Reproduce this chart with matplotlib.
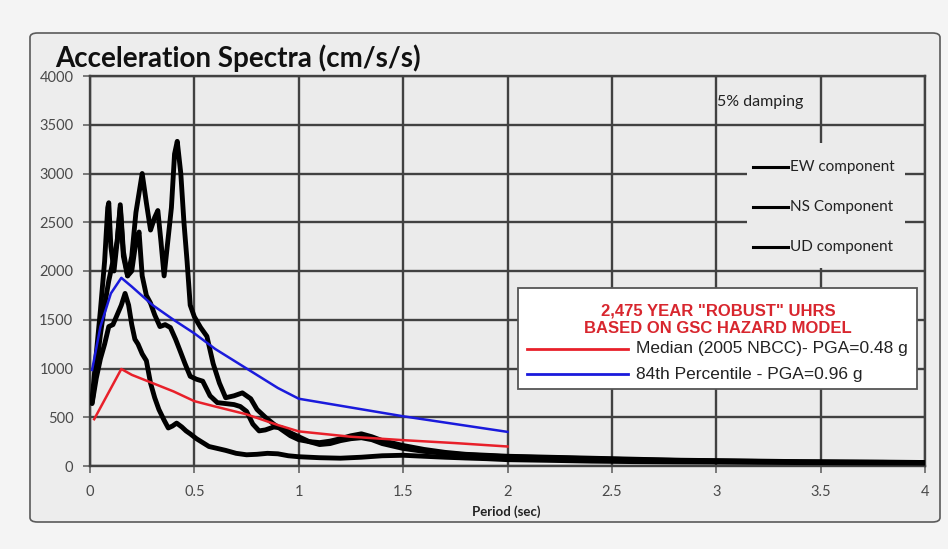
import matplotlib
matplotlib.use('Agg')
import matplotlib.pyplot as plt
from matplotlib.patches import FancyBboxPatch, Rectangle
from matplotlib.lines import Line2D

# ---------------- data ----------------
ew_t = [0.01, 0.03, 0.05, 0.07, 0.085, 0.09, 0.1, 0.115, 0.13, 0.145, 0.16, 0.18, 0.2, 0.22,
        0.25, 0.27, 0.29, 0.31, 0.325, 0.34, 0.355, 0.37, 0.39, 0.405, 0.418, 0.435, 0.45,
        0.465, 0.48, 0.5, 0.53, 0.56, 0.59, 0.62, 0.65, 0.69, 0.73, 0.77, 0.8, 0.84, 0.88,
        0.92, 0.96, 1.0, 1.05, 1.1, 1.15, 1.2, 1.25, 1.3, 1.35, 1.4, 1.5, 1.6, 1.7, 1.8,
        1.9, 2.0, 2.2, 2.4, 2.6, 2.8, 3.0, 3.2, 3.4, 3.6, 3.8, 4.0]
ew_a = [680, 1150, 1600, 2100, 2650, 2700, 2250, 2000, 2300, 2650, 2150, 1950, 2150, 2600,
        3000, 2700, 2420, 2550, 2620, 2300, 1950, 2250, 2650, 3200, 3330, 3000, 2500,
        2100, 1650, 1530, 1420, 1330, 1050, 850, 700, 720, 750, 690, 580, 500, 430,
        370, 310, 270, 250, 240, 255, 280, 310, 330, 300, 260, 210, 170, 140, 120,
        110, 100, 90, 80, 70, 60, 55, 50, 45, 42, 40, 36]

ns_t = [0.01, 0.03, 0.05, 0.07, 0.09, 0.11, 0.13, 0.145, 0.16, 0.18, 0.2, 0.22, 0.235,
        0.25, 0.27, 0.29, 0.31, 0.335, 0.36, 0.385, 0.41, 0.43, 0.455, 0.48, 0.51, 0.54,
        0.575, 0.61, 0.65, 0.69, 0.72, 0.75, 0.78, 0.81, 0.84, 0.88, 0.92, 0.96, 1.0,
        1.05, 1.1, 1.15, 1.2, 1.25, 1.3, 1.35, 1.4, 1.5, 1.6, 1.7, 1.8, 1.9, 2.0, 2.2,
        2.4, 2.6, 2.8, 3.0, 3.2, 3.4, 3.6, 3.8, 4.0]
ns_a = [650, 1000, 1350, 1650, 1900, 2100, 2300, 2680, 2200, 1950, 2000, 2300, 2400,
        1950, 1750, 1670, 1550, 1430, 1450, 1420, 1300, 1190, 1050, 920, 890, 870,
        720, 650, 640, 630, 610, 560, 430, 360, 370, 400, 390, 340, 300,
        250, 220, 230, 260, 280, 290, 270, 230, 180, 150, 130, 115, 105, 95, 85,
        75, 65, 58, 52, 47, 43, 40, 37, 34]

ud_t = [0.01, 0.03, 0.05, 0.07, 0.09, 0.11, 0.13, 0.15, 0.168, 0.185, 0.2, 0.215, 0.23,
        0.25, 0.27, 0.29, 0.31, 0.33, 0.355, 0.375, 0.395, 0.415, 0.44, 0.46, 0.48, 0.51,
        0.54, 0.57, 0.61, 0.65, 0.7, 0.75, 0.8, 0.85, 0.9, 0.95, 1.0, 1.1, 1.2, 1.3, 1.4,
        1.5, 1.6, 1.7, 1.8, 1.9, 2.0, 2.2, 2.4, 2.6, 2.8, 3.0, 3.2, 3.4, 3.6, 3.8, 4.0]
ud_a = [640, 900, 1100, 1250, 1430, 1450, 1550, 1650, 1770, 1650, 1450, 1300, 1250,
        1150, 1080, 850, 700, 580, 470, 390, 410, 440, 400, 360, 330, 280,
        240, 200, 180, 160, 130, 115, 120, 130, 125, 105, 95, 85, 80, 90, 105,
        110, 100, 90, 82, 75, 65, 58, 50, 45, 42, 40, 37, 35, 33, 31, 30]

median_t = [0.02, 0.15, 0.2, 0.3, 0.4, 0.5, 0.6, 0.75, 0.9, 1.0, 1.25, 1.5, 1.75, 2.0]
median_a = [480, 995, 935, 850, 765, 665, 610, 530, 420, 355, 300, 265, 235, 200]

p84_t = [0.01, 0.05, 0.1, 0.15, 0.2, 0.3, 0.4, 0.5, 0.6, 0.75, 0.9, 1.0, 1.25, 1.5, 1.75, 2.0]
p84_a = [985, 1430, 1770, 1930, 1840, 1650, 1500, 1360, 1200, 1000, 800, 690, 600, 510, 430, 350]

x_ticks = [0, 0.5, 1, 1.5, 2, 2.5, 3, 3.5, 4]
x_labels = ['0', '0.5', '1', '1.5', '2', '2.5', '3', '3.5', '4']
y_ticks = [0, 500, 1000, 1500, 2000, 2500, 3000, 3500, 4000]
y_labels = ['0', '500', '1000', '1500', '2000', '2500', '3000', '3500', '4000']

comp_labels = ['EW component', 'NS Component', 'UD component']
uhrs_title = '2,475 YEAR "ROBUST" UHRS\nBASED ON GSC HAZARD MODEL'
median_label = 'Median (2005 NBCC)- PGA=0.48 g'
p84_label = '84th Percentile - PGA=0.96 g'

# ---------------- figure ----------------
W, H = 948, 549
fig = plt.figure(figsize=(W / 100, H / 100), dpi=100)
fig.patch.set_facecolor('#f4f4f4')

def fx(px):
    return px / W

def fy(py):
    return 1 - py / H

frame = FancyBboxPatch((fx(30), fy(522)), fx(940) - fx(30), fy(33) - fy(522),
                       boxstyle='round,pad=0,rounding_size=0.008',
                       transform=fig.transFigure, facecolor='#ededed',
                       edgecolor='#5a5a5a', lw=1.2, zorder=-5)
fig.patches.append(frame)

ax = fig.add_axes([fx(90), fy(466), fx(925) - fx(90), fy(76) - fy(466)])
ax.set_zorder(1)
ax.set_facecolor('#ebebeb')
ax.set_xlim(0, 4)
ax.set_ylim(0, 4000)
ax.set_xticks(x_ticks)
ax.set_xticklabels(x_labels)
ax.set_yticks(y_ticks)
ax.set_yticklabels(y_labels)
ax.grid(True, color='#414141', lw=1.7)
ax.set_axisbelow(True)
for s in ax.spines.values():
    s.set_color('#414141')
    s.set_linewidth(1.7)
ax.tick_params(axis='both', direction='out', length=5, width=1.2, color='#666666',
               labelsize=10.5, labelcolor='#4a4a4a')
ax.tick_params(axis='x', pad=9)
ax.tick_params(axis='y', pad=7)
for lab in ax.get_xticklabels() + ax.get_yticklabels():
    lab.set_family('Lato')

blk = dict(color='black', lw=3.5, solid_joinstyle='round', solid_capstyle='round', zorder=3)
ax.plot(ew_t, ew_a, **blk)
ax.plot(ns_t, ns_a, **blk)
ax.plot(ud_t, ud_a, **blk)
ax.plot(p84_t, p84_a, color='#1a1adc', lw=1.8, zorder=4)
ax.plot(median_t, median_a, color='#e8202a', lw=1.8, zorder=4)

ax.set_xlabel('Period (sec)', family='Lato', fontweight='bold', fontsize=9.5,
              color='#222222')
ax.xaxis.set_label_coords((506 - 90) / 835, -(505 - 466) / 390)

# title
fig.text(fx(55), fy(67), 'Acceleration Spectra (cm/s/s)', family='Lato',
         fontweight='bold', fontsize=20, color='#111111', va='baseline', ha='left',
         zorder=10)

# 5% damping
ax.text(3.005, 3730, '5% damping', family='Lato', fontsize=11.5, color='#222222',
        va='center', ha='left', zorder=5)

# component legend (no frame)
ax.add_patch(Rectangle((fx(747), fy(268)), fx(905) - fx(747), fy(143) - fy(268),
                       transform=fig.transFigure, facecolor='#ebebeb',
                       edgecolor='none', zorder=5))
for i, lab in enumerate(comp_labels):
    yy = fy(167 + 40 * i)
    ax.add_line(Line2D([fx(753), fx(788)], [yy, yy], transform=fig.transFigure,
                       color='black', lw=2.2, zorder=6))
    ax.text(fx(790), yy, lab, transform=fig.transFigure, family='Lato', fontsize=11,
            color='#222222', va='center', ha='left', zorder=6)

# UHRS legend box
ax.add_patch(Rectangle((fx(518), fy(389)), fx(917) - fx(518), fy(288) - fy(389),
                       transform=fig.transFigure, facecolor='white',
                       edgecolor='#555555', lw=1.3, zorder=5))
ax.text(fx(718), fy(320), uhrs_title, transform=fig.transFigure,
        family='Liberation Sans', fontweight='bold', fontsize=12, color='#d8262e',
        va='center', ha='center', linespacing=1.22, zorder=6)
for yy_px, col, lab in [(349, '#e8202a', median_label), (374, '#1a1adc', p84_label)]:
    yy = fy(yy_px)
    ax.add_line(Line2D([fx(527), fx(628)], [yy, yy], transform=fig.transFigure,
                       color=col, lw=2.0, zorder=6))
    ax.text(fx(636), yy, lab, transform=fig.transFigure, family='Liberation Sans',
            fontsize=12.5, color='#222222', va='center', ha='left', zorder=6)

fig.savefig('out.png', dpi=100, facecolor=fig.get_facecolor())
